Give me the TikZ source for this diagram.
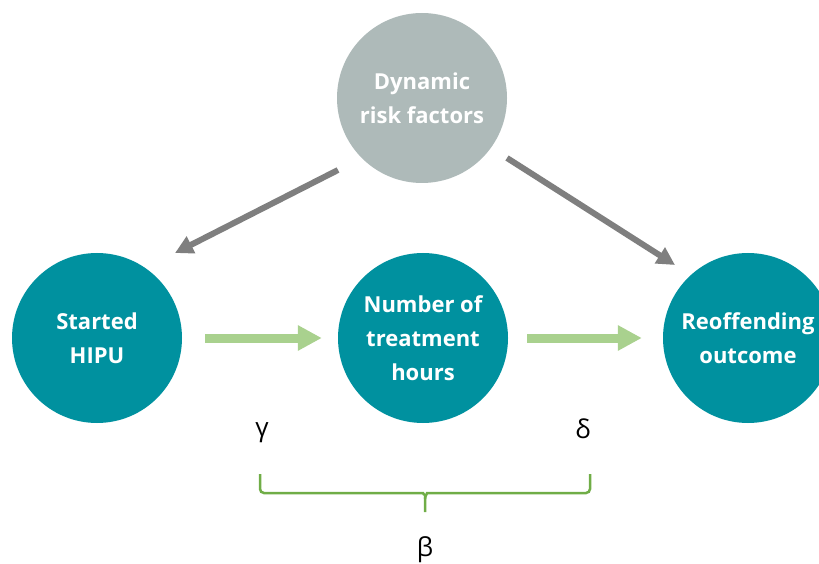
\documentclass[tikz,border=0pt]{standalone}
\usepackage{fontspec}
\setmainfont{Open Sans}
\usetikzlibrary{arrows.meta,positioning,calc}
\definecolor{teal}{HTML}{00919F}
\definecolor{riskgray}{HTML}{AEBAB9}
\definecolor{arrowgray}{HTML}{7F7F7F}
\definecolor{lightgreen}{HTML}{A9D18E}
\definecolor{bracegreen}{HTML}{70AD47}
\tikzset{
  factor/.style={circle, fill=teal, minimum size=170pt, inner sep=0pt, align=center,
    text=white, font=\fontsize{22}{34}\selectfont\bfseries},
  riskfactor/.style={factor, fill=riskgray},
  confound/.style={-{Triangle[length=18pt, width=18pt]}, draw=arrowgray, line width=6pt},
  path/.style={-{Triangle[length=24pt, width=24pt]}, draw=lightgreen, line width=9pt},
  bracket/.style={draw=bracegreen, line width=2.5pt, rounded corners=4pt},
  coef/.style={font=\fontsize{26}{30}\selectfont, text=black}
}

\begin{document}
\begin{tikzpicture}[x=1pt,y=1pt]
  \useasboundingbox (0,0) rectangle (819,563);
  \clip (0,0) rectangle (819,563);
  \node[riskfactor] (dyn) at (422,465) {Dynamic\\risk factors};
  \node[factor] (started) at (97,225) {Started\\HIPU};
  \node[factor] (hours) at (423,225) {Number of\\treatment\\hours};
  \node[factor] (reoffend) at (748,225) {Reoffending\\outcome};

  \coordinate (dynleft) at (338,393);
  \coordinate (startedtop) at (175,310);
  \coordinate (dynright) at (507,405);
  \coordinate (reoffendtop) at (675,298);
  \draw[confound] (dynleft) -- (startedtop);
  \draw[confound] (dynright) -- (reoffendtop);

  \draw[path, shorten <=23pt, shorten >=16pt] (started.east) -- (hours.west);
  \draw[path, shorten <=19pt, shorten >=21pt] (hours.east) -- (reoffend.west);

  \node[coef] (gamma) at (262,130) {γ};
  \node[coef] (delta) at (583,134) {δ};
  % brace under the two paths
  \coordinate (braceleft) at (260,89);
  \coordinate (braceright) at (590,89);
  \coordinate (bracemid) at (425,70);
  \coordinate (bracetip) at (425,51);
  \draw[bracket] (braceleft) |- ($(bracemid)+(-6,0)$) to[out=0,in=90] ($(bracemid)+(0,-6)$)
    -- (bracetip);
  \draw[bracket] (braceright) |- ($(bracemid)+(6,0)$) to[out=180,in=90] ($(bracemid)+(0,-6)$);
  \node[coef] (beta) at (425,13) {β};
\end{tikzpicture}
\end{document}
